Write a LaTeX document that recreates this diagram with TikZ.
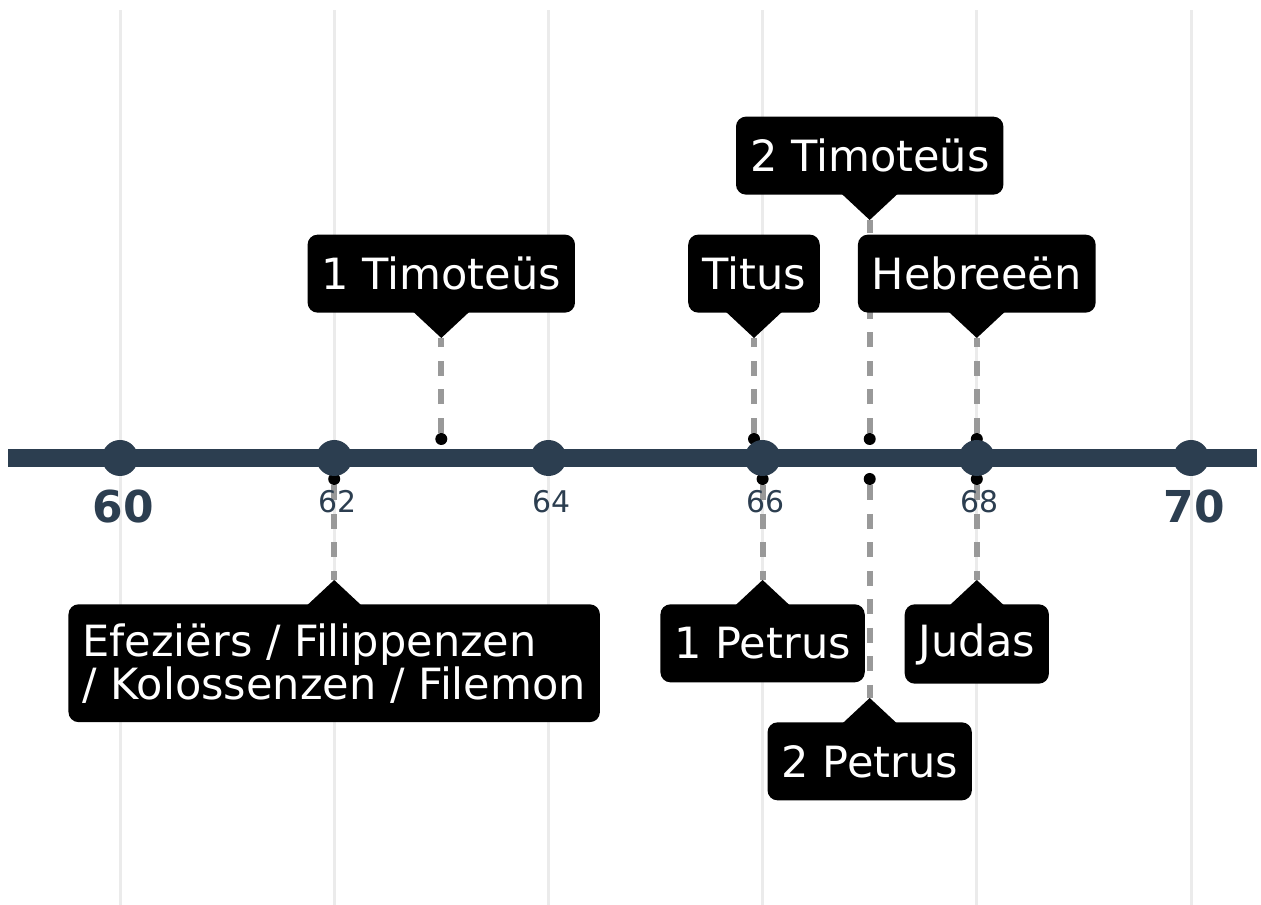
\documentclass[tikz,border=0pt]{standalone}
\usepackage{fontspec}
\setmainfont{DejaVu Sans}
\usetikzlibrary{positioning}
\definecolor{slate}{HTML}{2C3E50}
\definecolor{leadgray}{HTML}{999999}
\definecolor{gridgray}{HTML}{EBEBEB}

\begin{document}
\begin{tikzpicture}[
    yeardot/.style={circle,fill=slate,inner sep=0pt,minimum size=0.72cm},
    evdot/.style={circle,fill=black,inner sep=0pt,minimum size=0.24cm},
    leader/.style={draw=leadgray,line width=0.12cm,dash pattern=on 0.3cm off 0.27cm},
    callout/.style={fill=black,text=white,rounded corners=0.2cm,inner xsep=0.28cm,inner ysep=0.38cm,
        minimum height=1.56cm,font=\fontsize{24.5pt}{24.5pt}\selectfont},
    ticklab/.style={text=slate,inner sep=0pt,xshift=0.06cm,font=\fontsize{17pt}{17pt}\selectfont},
    majorlab/.style={text=slate,inner sep=0pt,xshift=0.06cm,font=\fontsize{25pt}{25pt}\selectfont\bfseries}
  ]
  \useasboundingbox (0,0) rectangle (25.22,18.10);

  % grid
  \foreach \yr in {60,62,...,70}
    \draw[gridgray,line width=0.06cm] ({2.4+(\yr-60)*2.142},0) -- ({2.4+(\yr-60)*2.142},17.9);

  % event dots
  \node (d63) at (8.826,9.32) [evdot] {};
  \node (dtit) at (15.08,9.32) [evdot] {};
  \node (d67u) at (17.394,9.32) [evdot] {};
  \node (d68u) at (19.536,9.32) [evdot] {};
  \node (d62) at (6.684,8.52) [evdot] {};
  \node (d66) at (15.252,8.52) [evdot] {};
  \node (d67l) at (17.394,8.52) [evdot] {};
  \node (d68l) at (19.536,8.52) [evdot] {};

  % pointer tips
  \coordinate (t63) at (8.826,11.34);
  \coordinate (ttit) at (15.08,11.34);
  \coordinate (t67u) at (17.394,13.70);
  \coordinate (t68u) at (19.536,11.34);
  \coordinate (t62) at (6.684,6.50);
  \coordinate (t66) at (15.252,6.50);
  \coordinate (t67l) at (17.394,4.14);
  \coordinate (t68l) at (19.536,6.50);

  \draw[leader] (d63) -- (t63);
  \draw[leader] (dtit) -- (ttit);
  \draw[leader] (d67u) -- (t67u);
  \draw[leader] (d68u) -- (t68u);
  \draw[leader] (d62) -- (t62);
  \draw[leader] (d66) -- (t66);
  \draw[leader] (d67l) -- (t67l);
  \draw[leader] (d68l) -- (t68l);

  % axis
  \coordinate (axl) at (0.16,8.94);
  \coordinate (axr) at (25.14,8.94);
  \draw[slate,line width=0.36cm] (axl) -- (axr);
  \foreach \yr in {60,62,...,70}
    \node (y\yr) at ({2.4+(\yr-60)*2.142},8.94) [yeardot] {};

  \node (l60) [majorlab,below=0.27cm of y60] {60};
  \node (l62) [ticklab,below=0.28cm of y62] {62};
  \node (l64) [ticklab,below=0.28cm of y64] {64};
  \node (l66) [ticklab,below=0.28cm of y66] {66};
  \node (l68) [ticklab,below=0.28cm of y68] {68};
  \node (l70) [majorlab,below=0.27cm of y70] {70};

  % labels above
  \node (tim1) [callout,above=0.5cm of t63] {1 Timoteüs};
  \node (titus) [callout,above=0.5cm of ttit] {Titus};
  \node (tim2) [callout,above=0.5cm of t67u] {2 Timoteüs};
  \node (hebr) [callout,above=0.5cm of t68u] {Hebreeën};
  \foreach \t in {t63,ttit,t67u,t68u}
    \fill (\t) -- ++(-0.6,0.56) -- ++(1.2,0) -- cycle;

  % labels below
  \node (efez) [callout,below=0.48cm of t62,align=left] {Efeziërs / Filippenzen\\/ Kolossenzen / Filemon};
  \node (pet1) [callout,below=0.48cm of t66] {1 Petrus};
  \node (pet2) [callout,below=0.48cm of t67l] {2 Petrus};
  \node (judas) [callout,below=0.48cm of t68l] {Judas};
  \foreach \t in {t62,t66,t67l,t68l}
    \fill (\t) -- ++(-0.6,-0.56) -- ++(1.2,0) -- cycle;

\end{tikzpicture}
\end{document}
